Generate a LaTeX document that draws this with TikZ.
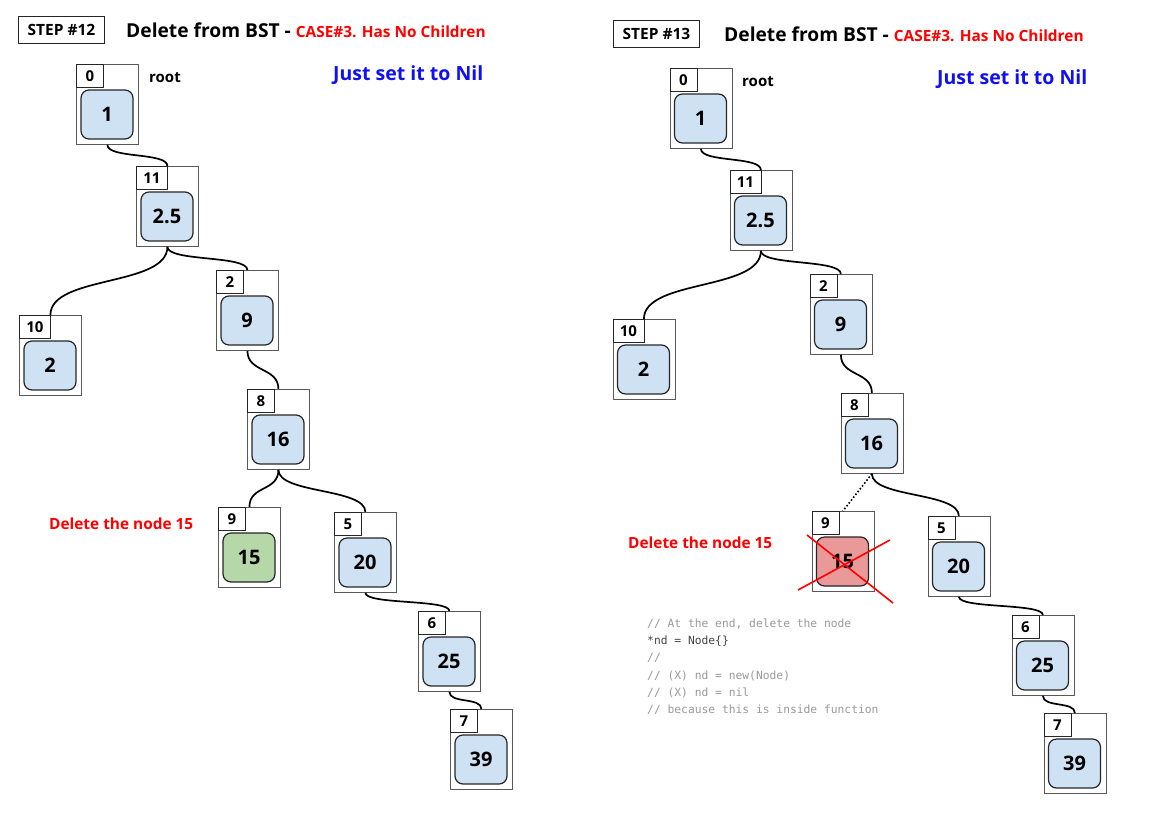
\documentclass[tikz,border=0pt]{standalone}
\usepackage{fontspec}
\setmainfont{Open Sans}
\newfontfamily\codefont{DejaVu Sans Mono}
\usetikzlibrary{calc}
\definecolor{nodeblue}{HTML}{CFE2F3}
\definecolor{nodegreen}{HTML}{B6D7A8}
\definecolor{nodered}{HTML}{EA9999}
\definecolor{titleblue}{HTML}{1010F0}
\definecolor{codegray}{HTML}{9A9A9A}
\definecolor{codedark}{HTML}{444444}
\tikzset{
  x=1pt, y=-1pt,
  outerbox/.style={draw=black!65, line width=0.8pt, minimum width=62pt, minimum height=80pt, inner sep=0pt, anchor=north west},
  idxbox/.style={draw=black!85, line width=0.8pt, minimum width=27pt, minimum height=23pt, inner xsep=7pt, inner ysep=0pt, anchor=north west, font=\fontsize{15}{17}\selectfont\bfseries},
  valbox/.style={draw=black!85, line width=1.2pt, rounded corners=8pt, minimum width=52pt, minimum height=49pt, inner sep=0pt, font=\fontsize{20}{23}\selectfont\bfseries},
  conn/.style={draw=black, line width=1.7pt},
  stepbox/.style={draw=black!85, line width=1pt, minimum width=86pt, minimum height=27pt, inner sep=0pt, font=\fontsize{15.5}{17}\selectfont\bfseries},
  titletext/.style={anchor=base west, inner sep=0pt},
  roottext/.style={anchor=base west, inner sep=0pt, font=\fontsize{15}{17}\selectfont\bfseries},
  niltext/.style={anchor=base west, inner sep=0pt, text=titleblue, font=\fontsize{19.5}{22}\selectfont\bfseries},
  deltext/.style={anchor=base west, inner sep=0pt, text=red, font=\fontsize{15.4}{18}\selectfont\bfseries},
  codetext/.style={anchor=base west, inner sep=0pt, text=codegray, font=\codefont\fontsize{11.3}{13}\selectfont},
  crossline/.style={draw=red, line width=1.6pt},
}
\newcommand\bstnode[6]{%
  \node[outerbox] (#1) at (#2,#3) {};
  \node[idxbox] (#1i) at (#2,#3) {#4};
  \node[valbox, fill=#6] (#1v) at ({#2+31},{#3+50.5}) {#5};
}
\newcommand\sconn[3]{%
  \draw[conn] (#1.south) .. controls +(0,#3) and +(0,-#3) .. (#2.north);
}
\newcommand\titleline[1]{%
  {\fontsize{19.2}{22}\selectfont\bfseries Delete from BST - }{\color{red}\fontsize{15.4}{18}\selectfont\bfseries CASE\#3. Has No Children}%
}
\begin{document}
\begin{tikzpicture}
\useasboundingbox (0,0) rectangle (1153,817);
\fill[white] (0,0) rectangle (1153,817);

% ---------------- Left panel ----------------
\node[stepbox, anchor=north west] (Lstep) at (18,16) {STEP \#12};
\node[titletext] (Ltitle) at (126,37.3) {\titleline{}};
\node[roottext] (Lroot) at (149,82.5) {root};
\node[niltext] (Lnil) at (333,80) {Just set it to Nil};
\node[deltext] (Ldel) at (49,529.5) {Delete the node 15};

\bstnode{La}{76}{64}{0}{1}{nodeblue}
\bstnode{Lb}{136}{166}{11}{2.5}{nodeblue}
\bstnode{Lc}{19}{315}{10}{2}{nodeblue}
\bstnode{Ld}{216}{270}{2}{9}{nodeblue}
\bstnode{Le}{247}{389}{8}{16}{nodeblue}
\bstnode{Lf}{218}{507}{9}{15}{nodegreen}
\bstnode{Lg}{334}{512}{5}{20}{nodeblue}
\bstnode{Lh}{418}{611}{6}{25}{nodeblue}
\bstnode{Li}{450}{709}{7}{39}{nodeblue}

\sconn{La}{Lb}{14}
\sconn{Lb}{Lc}{40}
\sconn{Lb}{Ld}{15}
\sconn{Ld}{Le}{22}
\sconn{Le}{Lf}{22}
\sconn{Le}{Lg}{24}
\sconn{Lg}{Lh}{12}
\sconn{Lh}{Li}{12}

% ---------------- Right panel ----------------
\node[stepbox, anchor=north west] (Rstep) at (613,20) {STEP \#13};
\node[titletext] (Rtitle) at (724,41.3) {\titleline{}};
\node[roottext] (Rroot) at (742,86.5) {root};
\node[niltext] (Rnil) at (937,84) {Just set it to Nil};
\node[deltext] (Rdel) at (628,548.5) {Delete the node 15};

\begin{scope}[shift={(593.5,4)}]
\bstnode{Ra}{76}{64}{0}{1}{nodeblue}
\bstnode{Rb}{136}{166}{11}{2.5}{nodeblue}
\bstnode{Rc}{19}{315}{10}{2}{nodeblue}
\bstnode{Rd}{216}{270}{2}{9}{nodeblue}
\bstnode{Re}{247}{389}{8}{16}{nodeblue}
\bstnode{Rf}{218}{507}{9}{15}{nodered}
\bstnode{Rg}{334}{512}{5}{20}{nodeblue}
\bstnode{Rh}{418}{611}{6}{25}{nodeblue}
\bstnode{Ri}{450}{709}{7}{39}{nodeblue}
\end{scope}

\sconn{Ra}{Rb}{14}
\sconn{Rb}{Rc}{40}
\sconn{Rb}{Rd}{15}
\sconn{Rd}{Re}{22}
\sconn{Re}{Rg}{24}
\sconn{Rg}{Rh}{12}
\sconn{Rh}{Ri}{12}
\draw[line width=1.6pt, dotted] (Re.south) -- (Rf.north);

\coordinate (X1a) at (807,535);
\coordinate (X1b) at (893,603);
\coordinate (X2a) at (798,590);
\coordinate (X2b) at (890,540);
\draw[crossline] (X1a) -- (X1b);
\draw[crossline] (X2a) -- (X2b);

\node[codetext] (c1) at (647,627) {// At the end, delete the node};
\node[codetext, text=codedark] (c2) at (647,644) {*nd = Node\{\}};
\node[codetext] (c3) at (647,661) {//};
\node[codetext] (c4) at (647,679) {// (X) nd = new(Node)};
\node[codetext] (c5) at (647,696) {// (X) nd = nil};
\node[codetext] (c6) at (647,713) {// because this is inside function};
\end{tikzpicture}
\end{document}
